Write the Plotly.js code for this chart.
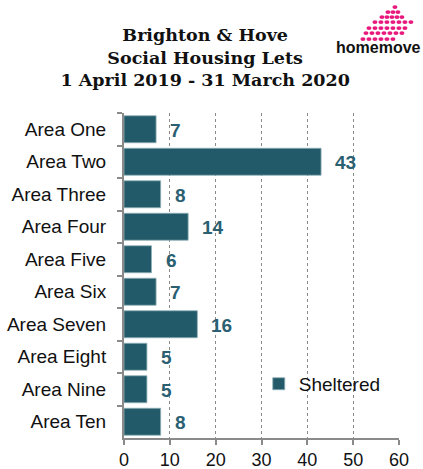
<!DOCTYPE html>
<html><head><meta charset="utf-8">
<script src="https://cdn.plot.ly/plotly-3.0.1.min.js"></script>
<style>html,body{margin:0;padding:0;background:#fff;}#chart{width:423px;height:469px;}</style>
</head><body><div id="chart"></div>
<script>
const categories = ["Area One","Area Two","Area Three","Area Four","Area Five","Area Six","Area Seven","Area Eight","Area Nine","Area Ten"];
const sheltered = [7,43,8,14,6,7,16,5,5,8];
const seriesName = "Sheltered";
const xTicks = [0,10,20,30,40,50,60];

const barColor = "#225a69";
const labelColor = "#2a6072";
const FONT = "Liberation Sans, Arial, sans-serif";

// logo dots (decoration) as inline svg, coords relative to logo box
const logoRows = [
  {y: 3,  xs: [35]},
  {y: 8,  xs: [28,33,38]},
  {y: 13, xs: [22,27,32,37,42]},
  {y: 18, xs: [15,21,27,33,39,45,51]},
  {y: 24, xs: [9,15,21,27,33,39,45]},
  {y: 29, xs: [6,12,18,24,30,36,42]},
  {y: 35, xs: [3,9,15,21,27,33]}
];
let dots = "";
logoRows.forEach(r => r.xs.forEach(x => {
  dots += `<ellipse cx="${x}" cy="${r.y}" rx="2.5" ry="1.9" fill="#e8197d"/>`;
}));
const svg = `<svg xmlns="http://www.w3.org/2000/svg" width="60" height="40" viewBox="0 0 60 40">${dots}</svg>`;
const logoSrc = "data:image/svg+xml;base64," + btoa(svg);

const data = [{
  type: "bar",
  orientation: "h",
  y: categories,
  x: sheltered,
  name: seriesName,
  marker: {color: barColor, line: {color: "#8fb0b8", width: 0.8}},
  width: 0.83,
  hoverinfo: "skip"
}];

const annotations = categories.map((c,i)=>({
  x: sheltered[i], y: c, xref: "x", yref: "y",
  text: String(sheltered[i]), showarrow: false,
  xanchor: "left", xshift: 12, yshift: -1,
  font: {family: FONT, size: 19, color: labelColor, weight: "bold"}
}));
annotations.push({
  xref: "paper", yref: "paper", x: 0.924, y: 1.203, xanchor: "center", yanchor: "middle",
  text: "<b>homemove</b>", showarrow: false,
  font: {family: FONT, size: 16, color: "#111"}
});

const layout = {
  width: 423, height: 469,
  margin: {l: 124, r: 24, t: 113, b: 31},
  paper_bgcolor: "#fff", plot_bgcolor: "#fff",
  title: {
    text: "<b>Brighton &amp; Hove<br>Social Housing Lets<br>1 April 2019 - 31 March 2020</b>",
    x: 0.485, xanchor: "center", y: 0.913, yanchor: "top",
    font: {family: "DejaVu Serif, Georgia, serif", size: 17.5, color: "#111"}
  },
  xaxis: {
    range: [0, 60], tickvals: xTicks, ticktext: xTicks.map(String),
    showgrid: true, gridcolor: "#8a8a8a", griddash: "dot", gridwidth: 1,
    zeroline: false, showline: true, linecolor: "#8a8a8a", linewidth: 2,
    ticks: "outside", ticklen: 5, tickcolor: "#8a8a8a", tickwidth: 2,
    ticklabelstandoff: -1,
    tickfont: {family: FONT, size: 18, color: "#111"},
    fixedrange: true
  },
  yaxis: {
    autorange: "reversed", type: "category",
    showline: true, linecolor: "#8a8a8a", linewidth: 2,
    ticks: "outside", ticklen: 5, tickcolor: "#8a8a8a", tickwidth: 2,
    tickson: "boundaries", showgrid: false, zeroline: false,
    ticklabelstandoff: 12,
    tickfont: {family: FONT, size: 19, color: "#111"},
    fixedrange: true
  },
  showlegend: true,
  legend: {
    x: 0.49, y: 0.225, xanchor: "left", yanchor: "top",
    bgcolor: "rgba(0,0,0,0)",
    font: {family: FONT, size: 19, color: "#111"},
    itemwidth: 30
  },
  annotations: annotations,
  images: [{
    source: logoSrc, xref: "paper", yref: "paper",
    x: 0.858, y: 1.335, sizex: 0.218, sizey: 0.123, xanchor: "left", yanchor: "top",
    sizing: "stretch"
  }]
};

Plotly.newPlot("chart", data, layout, {displayModeBar: false, staticPlot: true});
</script>
</body></html>
